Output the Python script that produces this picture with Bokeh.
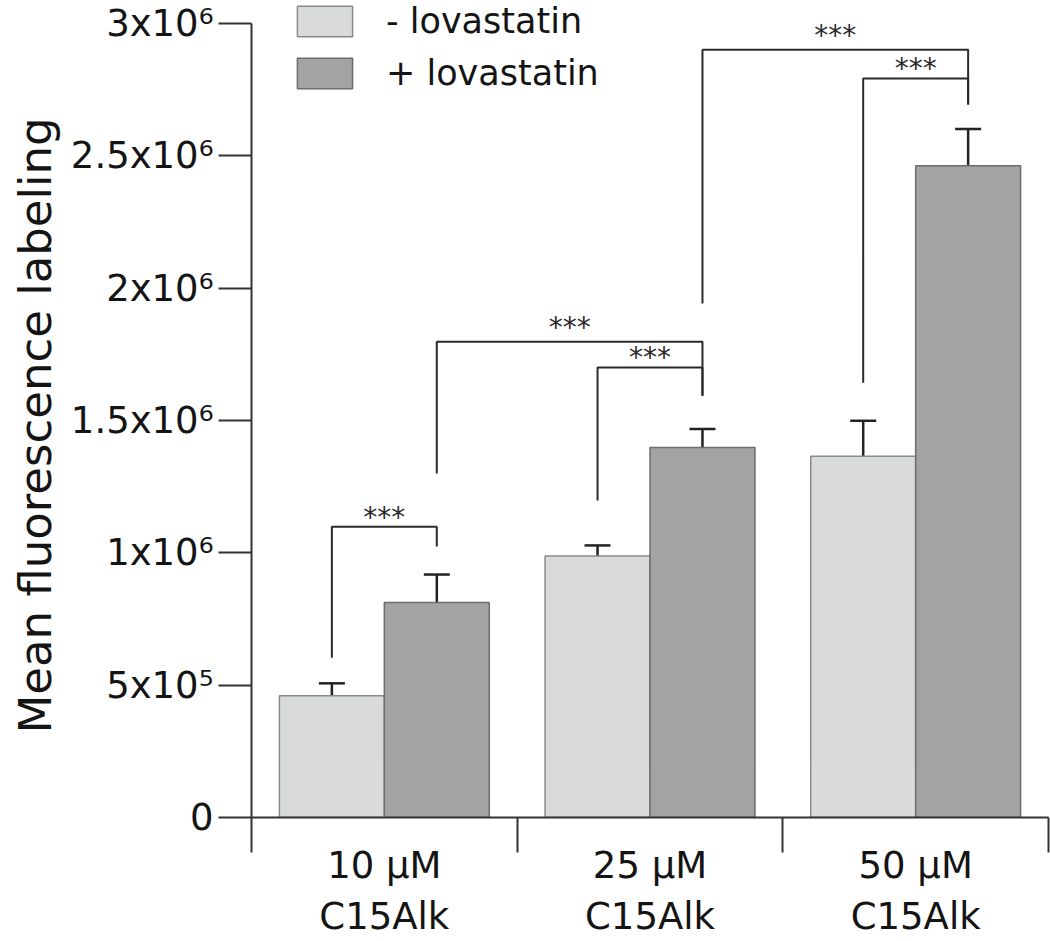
from bokeh.plotting import figure
from bokeh.models import (Range1d, FixedTicker, Whisker, ColumnDataSource, Legend,
                          LegendItem, Title, TeeHead)
from bokeh.core.properties import value
from bokeh.embed import file_html
from bokeh.resources import INLINE

# ---------------- data ----------------
groups = ["10 µM\nC15Alk", "25 µM\nC15Alk", "50 µM\nC15Alk"]
minus_lova = [0.460e6, 0.988e6, 1.365e6]
minus_err = [0.047e6, 0.040e6, 0.134e6]
plus_lova = [0.812e6, 1.398e6, 2.463e6]
plus_err = [0.106e6, 0.070e6, 0.138e6]
legend_labels = ["- lovastatin", "+ lovastatin"]
y_ticks = [0, 5e5, 1e6, 1.5e6, 2e6, 2.5e6, 3e6]
y_tick_labels = ["0", "5x10⁵", "1x10⁶", "1.5x10⁶", "2x10⁶", "2.5x10⁶", "3x10⁶"]

# significance brackets: (group a, series a, group b, series b,
#                         left foot, top, right foot, label height)
brackets = [
    (0, 0, 0, 1, 0.604e6, 1.099e6, 1.024e6, 1.141e6),
    (0, 1, 1, 1, 1.300e6, 1.798e6, 1.594e6, 1.859e6),
    (1, 0, 1, 1, 1.198e6, 1.700e6, 1.594e6, 1.745e6),
    (1, 1, 2, 1, 1.942e6, 2.901e6, 2.694e6, 2.962e6),
    (2, 0, 2, 1, 1.643e6, 2.792e6, 2.694e6, 2.837e6),
]
sig_label = "***"

FONT = "DejaVu Sans"
TXT = "#141414"

# ---------------- geometry ----------------
n = len(groups)
centers = [i + 0.5 for i in range(n)]
dodge = 0.1975
bar_w = 0.395
series_x = [[c - dodge for c in centers], [c + dodge for c in centers]]

p = figure(width=1050, height=941, output_backend="svg", toolbar_location=None,
           title=None, x_range=Range1d(0, 3), y_range=Range1d(0, 3.087e6),
           min_border_left=251, min_border_right=2, min_border_top=0,
           min_border_bottom=124)
p.outline_line_color = None
p.xgrid.grid_line_color = None
p.ygrid.grid_line_color = None
p.background_fill_color = "white"
p.border_fill_color = "white"

fills = ["#d9dbda", "#a3a3a3"]
edges = ["#8a8a8a", "#6c6c6c"]
vals = [minus_lova, plus_lova]
errs = [minus_err, plus_err]
renderers = []
for s in range(2):
    src = ColumnDataSource(dict(
        x=series_x[s], top=vals[s],
        upper=[v + e for v, e in zip(vals[s], errs[s])],
        lower=[v - e for v, e in zip(vals[s], errs[s])]))
    r = p.vbar(x="x", top="top", bottom=0, width=bar_w, source=src,
               fill_color=fills[s], line_color=edges[s], line_width=1.5)
    renderers.append(r)
    w = Whisker(source=src, base="x", upper="upper", lower="lower",
                line_color="#222222", line_width=2.5,
                upper_head=TeeHead(size=26, line_color="#222222", line_width=2.5),
                lower_head=TeeHead(size=26, line_color="#222222", line_width=2.5))
    p.add_layout(w)

# significance brackets
xs, ys, tx, ty = [], [], [], []
for ga, sa, gb, sb, lf, top, rf, lab in brackets:
    xa = series_x[sa][ga]
    xb = series_x[sb][gb]
    xs.append([xa, xa, xb, xb])
    ys.append([lf, top, top, rf])
    tx.append((xa + xb) / 2)
    ty.append(lab)
p.multi_line(xs=xs, ys=ys, line_color="#2a2a2a", line_width=2)
p.text(x=tx, y=ty, text=[sig_label] * len(tx), text_font=value(FONT),
       text_font_size="28px", text_align="center", text_baseline="alphabetic",
       y_offset=2, text_color="#2a2a2a")

# axes
yax = p.yaxis[0]
yax.ticker = FixedTicker(ticks=y_ticks, minor_ticks=[])
yax.major_label_overrides = {t: l for t, l in zip(y_ticks, y_tick_labels)}
yax.bounds = (0, 3e6)
yax.major_tick_out = 33
yax.major_tick_in = 0
yax.major_tick_line_width = 2
yax.major_tick_line_color = "#333333"
yax.axis_line_width = 2
yax.axis_line_color = "#333333"
yax.major_label_standoff = 5
yax.major_label_text_font = FONT
yax.major_label_text_font_size = "37px"
yax.major_label_text_color = TXT

xax = p.xaxis[0]
xax.ticker = FixedTicker(ticks=centers, minor_ticks=[0, 1, 2, 3])
xax.major_label_overrides = {c: g for c, g in zip(centers, groups)}
xax.bounds = (0, 3)
xax.major_tick_line_color = None
xax.major_tick_out = 0
xax.major_tick_in = 0
xax.minor_tick_out = 35
xax.minor_tick_in = 0
xax.minor_tick_line_width = 2
xax.minor_tick_line_color = "#333333"
xax.axis_line_width = 2
xax.axis_line_color = "#333333"
xax.major_label_standoff = -9
xax.major_label_text_font = FONT
xax.major_label_text_font_size = "37px"
xax.major_label_text_color = TXT
xax.major_label_text_line_height = 1.2

ytitle = Title(text="Mean fluorescence labeling", align="left", offset=84,
               text_font=FONT, text_font_size="45px", text_font_style="normal",
               text_color=TXT, standoff=12)
p.add_layout(ytitle, "left")

legend = Legend(items=[LegendItem(label=legend_labels[i], renderers=[renderers[i]])
                       for i in range(2)],
                location=(39, 724), orientation="vertical",
                glyph_width=69, glyph_height=38, label_standoff=27, spacing=12,
                padding=0, margin=0, border_line_color=None,
                background_fill_alpha=0, label_text_font=FONT,
                label_text_font_size="35px", label_text_color=TXT)
p.add_layout(legend)

open("out.html", "w").write(file_html(p, INLINE))
